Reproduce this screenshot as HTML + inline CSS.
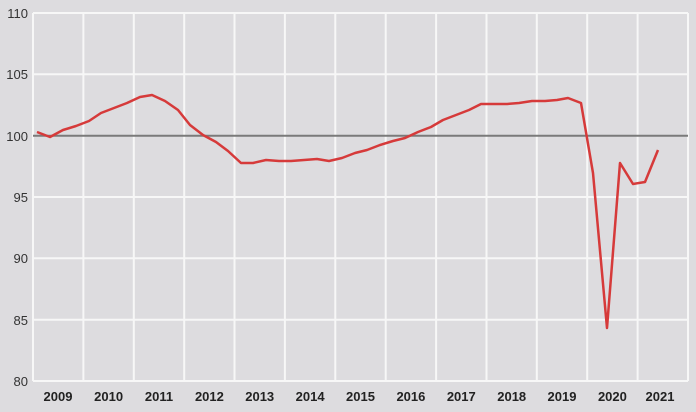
<!DOCTYPE html>
<html><head><style>
body{margin:0;background:#dddcdf;}
svg{display:block;font-family:"Liberation Sans",sans-serif;}
</style></head><body>
<svg width="696" height="412" viewBox="0 0 696 412">
<rect width="696" height="412" fill="#dddcdf"/>
<g stroke="#f7f7f7" stroke-width="2">
<line x1="33" y1="13" x2="688" y2="13"/>
<line x1="33" y1="74.3" x2="688" y2="74.3"/>
<line x1="33" y1="197" x2="688" y2="197"/>
<line x1="33" y1="258.3" x2="688" y2="258.3"/>
<line x1="33" y1="319.7" x2="688" y2="319.7"/>
<line x1="33" y1="381" x2="688" y2="381"/>
<line x1="33" y1="13" x2="33" y2="381"/>
<line x1="83.4" y1="13" x2="83.4" y2="381"/>
<line x1="133.8" y1="13" x2="133.8" y2="381"/>
<line x1="184.2" y1="13" x2="184.2" y2="381"/>
<line x1="234.5" y1="13" x2="234.5" y2="381"/>
<line x1="284.9" y1="13" x2="284.9" y2="381"/>
<line x1="335.3" y1="13" x2="335.3" y2="381"/>
<line x1="385.7" y1="13" x2="385.7" y2="381"/>
<line x1="436.1" y1="13" x2="436.1" y2="381"/>
<line x1="486.5" y1="13" x2="486.5" y2="381"/>
<line x1="536.8" y1="13" x2="536.8" y2="381"/>
<line x1="587.2" y1="13" x2="587.2" y2="381"/>
<line x1="637.6" y1="13" x2="637.6" y2="381"/>
<line x1="688" y1="13" x2="688" y2="381"/>
</g>
<line x1="33" y1="135.7" x2="688" y2="135.7" stroke="#7a7a7a" stroke-width="2"/>
<polyline fill="none" stroke="#d63a3a" stroke-width="2.5" stroke-linejoin="round" points="37,132 50,137 63,130 76,126 89,121 101,113 114,108 127,103 140,97 152,95 165,101 178,110 190,125 203,135 216,142 228,151 241,163 253,163 266,160 279,161 291,161 304,160 317,159 329,161 342,158 355,153 367,150 380,145 393,141 405,138 418,132 431,127 443,120 456,115 469,110 481,104 494,104 507,104 519,103 532,101 545,101 557,100 568,98 581,103 593,173 607,328 620,163 633,184 645,182 658,150"/>
<g font-size="13" fill="#333" text-anchor="end">
<text x="28" y="18">110</text>
<text x="28" y="79">105</text>
<text x="28" y="141">100</text>
<text x="28" y="202">95</text>
<text x="28" y="263">90</text>
<text x="28" y="325">85</text>
<text x="28" y="386">80</text>
</g>
<g font-size="13" font-weight="bold" fill="#222" text-anchor="middle">
<text x="58" y="401">2009</text>
<text x="108.6" y="401">2010</text>
<text x="159" y="401">2011</text>
<text x="209.4" y="401">2012</text>
<text x="259.7" y="401">2013</text>
<text x="310.1" y="401">2014</text>
<text x="360.5" y="401">2015</text>
<text x="410.9" y="401">2016</text>
<text x="461.3" y="401">2017</text>
<text x="511.7" y="401">2018</text>
<text x="562" y="401">2019</text>
<text x="612.4" y="401">2020</text>
<text x="660" y="401">2021</text>
</g>
</svg>
</body></html>
